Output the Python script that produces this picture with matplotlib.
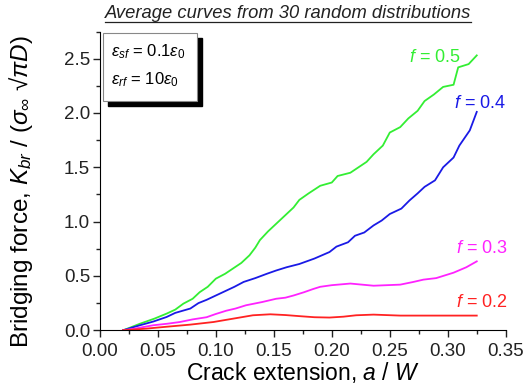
import matplotlib
matplotlib.use("Agg")
import matplotlib.pyplot as plt
from matplotlib.patches import Rectangle
from matplotlib.lines import Line2D
from matplotlib.ticker import MultipleLocator, FormatStrFormatter

plt.rcParams['font.family'] = ['Liberation Sans', 'DejaVu Sans']
plt.rcParams['mathtext.fontset'] = 'custom'
plt.rcParams['mathtext.rm'] = 'Liberation Sans'
plt.rcParams['mathtext.it'] = 'Liberation Sans:italic'
plt.rcParams['mathtext.bf'] = 'Liberation Sans:bold'

x_f05 = [0.02, 0.025, 0.0345, 0.047, 0.0575, 0.065, 0.072, 0.08, 0.086, 0.093, 0.1, 0.108, 0.115, 0.122,
         0.129, 0.134, 0.138, 0.145, 0.152, 0.158, 0.163, 0.167, 0.172, 0.18, 0.19, 0.2, 0.205, 0.216,
         0.223, 0.230, 0.236, 0.244, 0.25, 0.259, 0.266, 0.274, 0.280, 0.288, 0.296, 0.305, 0.309,
         0.318, 0.325]
y_f05 = [0.0, 0.02, 0.06, 0.107, 0.153, 0.19, 0.245, 0.29, 0.35, 0.40, 0.475, 0.52, 0.57, 0.62,
         0.69, 0.76, 0.83, 0.91, 0.98, 1.04, 1.09, 1.13, 1.20, 1.26, 1.33, 1.36, 1.42, 1.45,
         1.50, 1.55, 1.62, 1.70, 1.82, 1.87, 1.95, 2.02, 2.11, 2.17, 2.24, 2.26, 2.42,
         2.45, 2.53]

x_f04 = [0.02, 0.0345, 0.046, 0.0575, 0.065, 0.078, 0.085, 0.092, 0.1, 0.108, 0.116, 0.124, 0.134,
         0.144, 0.152, 0.161, 0.172, 0.185, 0.198, 0.204, 0.214, 0.22, 0.228, 0.236, 0.243, 0.25,
         0.26, 0.267, 0.274, 0.28, 0.289, 0.296, 0.305, 0.310, 0.319, 0.325]
y_f04 = [0.0, 0.046, 0.08, 0.122, 0.16, 0.2, 0.25, 0.28, 0.32, 0.36, 0.40, 0.445, 0.48,
         0.52, 0.55, 0.58, 0.61, 0.66, 0.72, 0.77, 0.81, 0.87, 0.90, 0.965, 1.01, 1.07,
         1.12, 1.195, 1.26, 1.32, 1.38, 1.50, 1.59, 1.70, 1.84, 2.01]

x_f03 = [0.02, 0.03, 0.046, 0.058, 0.069, 0.08, 0.092, 0.1, 0.109, 0.117, 0.126, 0.14, 0.152, 0.16,
         0.167, 0.176, 0.184, 0.19, 0.2, 0.216, 0.236, 0.259, 0.27, 0.279, 0.29, 0.305, 0.316, 0.325]
y_f03 = [0.0, 0.015, 0.046, 0.06, 0.076, 0.1, 0.12, 0.15, 0.18, 0.2, 0.23, 0.26, 0.29, 0.30,
         0.32, 0.35, 0.38, 0.40, 0.415, 0.43, 0.41, 0.42, 0.444, 0.466, 0.48, 0.53, 0.58, 0.634]

x_f02 = [0.02, 0.04, 0.055, 0.078, 0.098, 0.115, 0.132, 0.147, 0.16, 0.172, 0.185, 0.198, 0.21,
         0.221, 0.236, 0.259, 0.29, 0.325]
y_f02 = [0.0, 0.015, 0.03, 0.052, 0.076, 0.107, 0.138, 0.147, 0.14, 0.13, 0.12, 0.117, 0.125,
         0.138, 0.144, 0.135, 0.135, 0.135]

series = [
    (x_f05, y_f05, '#33ee33', '0.5', (0.289, 2.51)),
    (x_f04, y_f04, '#1a1ae6', '0.4', (0.328, 2.09)),
    (x_f03, y_f03, '#ff22ff', '0.3', (0.329, 0.75)),
    (x_f02, y_f02, '#ff2222', '0.2', (0.329, 0.26)),
]

fig = plt.figure(figsize=(5.23, 3.89), dpi=100)
ax = fig.add_axes([0.191, 0.151, 0.776, 0.768])

for xs, ys, c, lab, pos in series:
    ax.plot(xs, ys, color=c, lw=1.3)
    ax.text(pos[0], pos[1], r'$f$ = ' + lab, color=c, fontsize=13, ha='center', va='center')

ax.set_xlim(0, 0.35)
ax.set_ylim(0, 2.75)
ax.xaxis.set_major_locator(MultipleLocator(0.05))
ax.xaxis.set_minor_locator(MultipleLocator(0.025))
ax.yaxis.set_major_locator(MultipleLocator(0.5))
ax.yaxis.set_minor_locator(MultipleLocator(0.25))
ax.xaxis.set_major_formatter(FormatStrFormatter('%.2f'))
ax.yaxis.set_major_formatter(FormatStrFormatter('%.1f'))
for s in ['top', 'right']:
    ax.spines[s].set_visible(False)
ax.tick_params(which='both', direction='out', labelsize=13.5, width=1, colors='#222222')
ax.tick_params(which='major', length=5, pad=2)
ax.tick_params(axis='x', which='major', pad=4)
ax.tick_params(which='minor', length=3)

ax.set_xlabel(r'Crack extension, $a$ / $W$', fontsize=16.5)
ax.xaxis.set_label_coords(0.5, -0.1)
ax.set_ylabel(r'Bridging force, $K_{br}$ / ($\sigma_\infty$ √$\pi D$)', fontsize=17.5)
ax.yaxis.set_label_coords(-0.16, 0.465)

title = fig.text(288 / 523, 1 - 14 / 389, 'Average curves from 30 random distributions', fontsize=13.2,
                 style='italic', ha='center', va='center', color='#222222')
fig.canvas.draw()
bb = title.get_window_extent().transformed(fig.transFigure.inverted())
fig.add_artist(Line2D([bb.x0, bb.x1], [1 - 22 / 389, 1 - 22 / 389], color='#222222', lw=0.9))

# parameter box with shadow
bx0, by0, bw, bh = 103 / 523, 1 - 101 / 389, 94 / 523, 68 / 389
fig.add_artist(Rectangle((bx0 + 5 / 523, by0 - 5 / 389), bw, bh, transform=fig.transFigure,
                         facecolor='black', edgecolor='black'))
fig.add_artist(Rectangle((bx0, by0), bw, bh, transform=fig.transFigure,
                         facecolor='white', edgecolor='#888888', lw=0.8))
fig.text(bx0 + 8 / 523, 1 - 52 / 389, r'$\varepsilon_{sf}$ = 0.1$\varepsilon_0$', fontsize=12, va='center')
fig.text(bx0 + 8 / 523, 1 - 80 / 389, r'$\varepsilon_{rf}$ = 10$\varepsilon_0$', fontsize=12, va='center')

fig.savefig('out.png', dpi=100)
